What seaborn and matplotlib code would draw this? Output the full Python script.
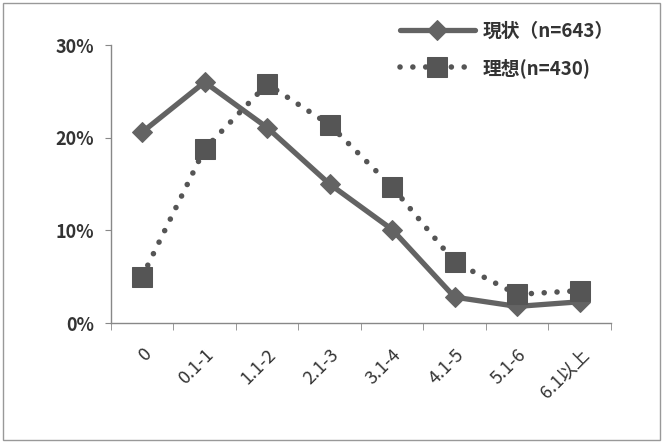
import pandas as pd
import seaborn as sns
from matplotlib import pyplot as plt
from matplotlib.patches import Rectangle

categories = ['0', '0.1-1', '1.1-2', '2.1-3', '3.1-4', '4.1-5', '5.1-6', '6.1以上']
current = [20.6, 26.0, 21.1, 15.0, 10.1, 2.8, 1.8, 2.3]
ideal = [5.0, 18.8, 25.8, 21.4, 14.7, 6.6, 3.1, 3.5]
label_current = '現状（n=643）'
label_ideal = '理想(n=430)'

df = pd.DataFrame({'cat': categories, 'current': current, 'ideal': ideal})

sns.set_style('white')
plt.rcParams['font.family'] = ['Noto Sans CJK JP', 'DejaVu Sans']

fig = plt.figure(figsize=(6.64, 4.42), dpi=100)
ax = fig.add_axes([0.167, 0.269, 0.753, 0.629])

#current: solid line, diamonds
sns.lineplot(data=df, x='cat', y='current', sort=False, ax=ax, color='#636363',
             linewidth=3.8, marker='D', markersize=10, markeredgecolor='#636363',
             label=label_current)
#ideal: dotted line, squares
sns.lineplot(data=df, x='cat', y='ideal', sort=False, ax=ax, color='#555555',
             linewidth=4, linestyle=(0, (0.01, 2.3)), dash_capstyle='round',
             marker='s', markersize=14, markeredgecolor='#555555',
             label=label_ideal)

ax.set_xlim(-0.5, len(categories) - 0.5)
ax.set_ylim(0, 30)
ax.set_yticks([0, 10, 20, 30])
ax.set_yticklabels(['0%', '10%', '20%', '30%'], fontsize=13, fontweight='bold', color='#333333')
ax.set_xticks(range(len(categories)))
ax.set_xticklabels(categories, rotation=45, ha='right', rotation_mode='anchor', fontsize=13, color='#333333')
ax.set_xticks([i - 0.5 for i in range(len(categories) + 1)], minor=True)
ax.tick_params(axis='x', which='major', length=0, pad=16)
ax.tick_params(axis='x', which='minor', length=5, color='#888888', direction='out', bottom=True)
ax.tick_params(axis='y', length=4, color='#888888', direction='out', left=True, pad=8)
ax.set_xlabel('')
ax.set_ylabel('')

for s in ['top', 'right']:
    ax.spines[s].set_visible(False)
for s in ['left', 'bottom']:
    ax.spines[s].set_color('#888888')
    ax.spines[s].set_linewidth(1)

leg = ax.legend(loc='upper right', bbox_to_anchor=(1.02, 1.11), frameon=False,
                handlelength=4, handletextpad=0.4, labelspacing=0.9, fontsize=13.5, borderaxespad=0)
for t in leg.get_texts():
    t.set_fontweight('bold')
    t.set_color('#333333')

fig.patches.append(Rectangle((0.004, 0.004), 0.99, 0.99, transform=fig.transFigure,
                             fill=False, edgecolor='#999999', linewidth=1))

fig.savefig('out.png', dpi=100)
